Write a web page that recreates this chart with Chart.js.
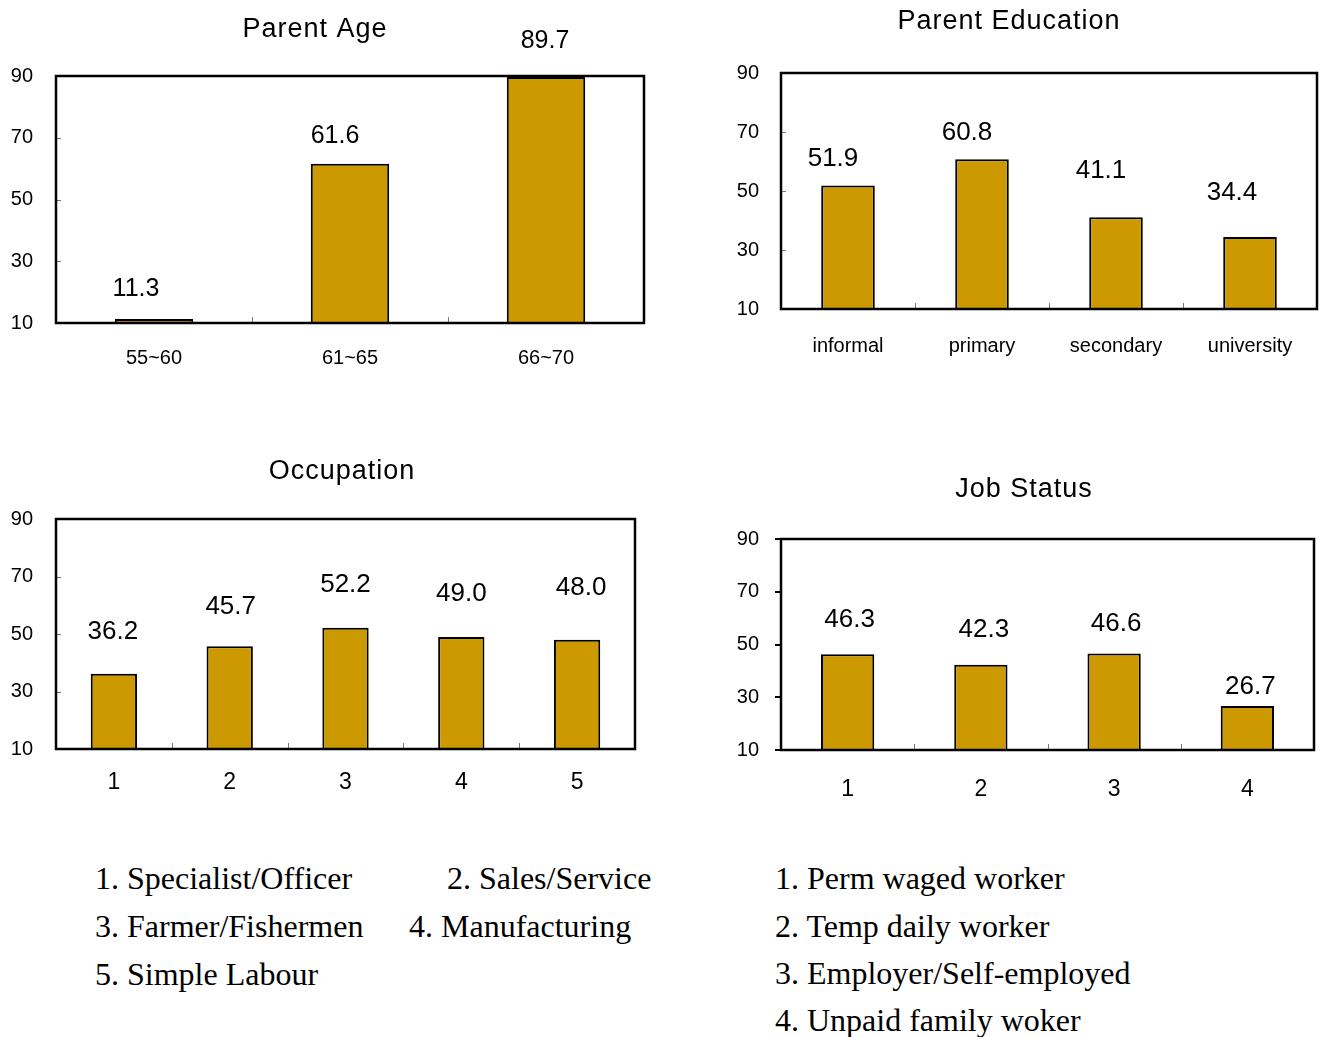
<!DOCTYPE html>
<html>
<head>
<meta charset="utf-8">
<title>Parent and household characteristics</title>
<script src="https://cdn.jsdelivr.net/npm/chart.js@4.4.1/dist/chart.umd.min.js"></script>
<style>
  html, body { margin: 0; padding: 0; background: #fff; }
  body { width: 1321px; height: 1037px; position: relative; overflow: hidden; }
  canvas { position: absolute; }
  .note {
    position: absolute;
    font-family: 'Liberation Serif', 'Times New Roman', serif;
    font-size: 32px;
    line-height: 32px;
    color: #000;
    white-space: nowrap;
  }
</style>
</head>
<body>
<canvas id="cAge"></canvas>
<canvas id="cEdu"></canvas>
<canvas id="cOcc"></canvas>
<canvas id="cJob"></canvas>

<script>
// ---- data ----
const ageCategories = ['55~60', '61~65', '66~70'];
const ageValues = [11.3, 61.6, 89.7];

const eduCategories = ['informal', 'primary', 'secondary', 'university'];
const eduValues = [51.9, 60.8, 41.1, 34.4];

const occCategories = ['1', '2', '3', '4', '5'];
const occValues = [36.2, 45.7, 52.2, 49.0, 48.0];

const jobCategories = ['1', '2', '3', '4'];
const jobValues = [46.3, 42.3, 46.6, 26.7];

const yTickValues = [10, 30, 50, 70, 90];

const occNames = ['Specialist/Officer', 'Sales/Service', 'Farmer/Fishermen', 'Manufacturing', 'Simple Labour'];
const jobNames = ['Perm waged worker', 'Temp daily worker', 'Employer/Self-employed', 'Unpaid family woker'];

// ---- styling ----
const FONT = "'Liberation Sans', Arial, Helvetica, sans-serif";
Chart.defaults.font.family = FONT;
Chart.defaults.color = '#000';
const BAR_FILL = '#CC9900';

// Frame, small axis tick marks, title and value labels for one panel
const panelDecor = {
  id: 'panelDecor',
  afterDatasetsDraw(chart) {
    const spec = chart.options.plugins.panelDecor;
    const { ctx, chartArea: a } = chart;
    const xs = chart.scales.x, ys = chart.scales.y;
    ctx.save();

    // inner tick marks
    ctx.strokeStyle = '#777';
    ctx.lineWidth = 1;
    ctx.beginPath();
    const n = chart.data.labels.length;
    for (let k = 1; k < n; k++) {
      const x = Math.round(xs.getPixelForValue(k - 0.5)) + 0.5;
      ctx.moveTo(x, a.bottom);
      ctx.lineTo(x, a.bottom - 6);
    }
    if (spec.innerYTicks) {
      [30, 50, 70].forEach(v => {
        const y = Math.round(ys.getPixelForValue(v)) + 0.5;
        ctx.moveTo(a.left, y);
        ctx.lineTo(a.left + 5, y);
      });
    }
    ctx.stroke();

    // plot frame
    ctx.strokeStyle = '#000';
    ctx.lineWidth = 2.5;
    ctx.strokeRect(a.left, a.top, a.right - a.left, a.bottom - a.top);

    // value labels
    ctx.fillStyle = '#000';
    ctx.font = spec.valueFont + 'px ' + FONT;
    ctx.textAlign = 'center';
    ctx.textBaseline = 'middle';
    const values = chart.data.datasets[0].data;
    chart.getDatasetMeta(0).data.forEach((bar, i) => {
      const s = spec.labelShift[i];
      ctx.fillText(values[i].toFixed(1), bar.x + s[0], bar.y - s[1]);
    });

    // panel title
    ctx.font = '27px ' + FONT;
    if ('letterSpacing' in ctx) ctx.letterSpacing = '1px';
    ctx.fillText(spec.title, spec.titleX, spec.titleY);
    ctx.restore();
  }
};

function makePanel(p) {
  const canvas = document.getElementById(p.id);
  canvas.width = p.w;
  canvas.height = p.h;
  canvas.style.left = p.left + 'px';
  canvas.style.top = p.top + 'px';
  canvas.style.width = p.w + 'px';
  canvas.style.height = p.h + 'px';

  const yGrid = p.outerYTicks
    ? { display: true, drawOnChartArea: false, drawTicks: true, tickLength: 6, color: '#000', lineWidth: 2 }
    : { display: false };

  return new Chart(canvas, {
    type: 'bar',
    data: {
      labels: p.categories,
      datasets: [{
        data: p.values,
        backgroundColor: BAR_FILL,
        borderColor: '#000',
        borderWidth: 2,
        borderSkipped: false,
        barPercentage: 0.4,
        categoryPercentage: 1
      }]
    },
    options: {
      responsive: false,
      animation: false,
      devicePixelRatio: 1,
      layout: {
        padding: {
          top: p.plot.top - p.top,
          right: p.left + p.w - p.plot.right,
          left: 0,
          bottom: 0
        }
      },
      plugins: {
        legend: { display: false },
        tooltip: { enabled: false },
        title: { display: false },
        panelDecor: {
          title: p.title,
          titleX: p.titleX - p.left,
          titleY: p.titleY - p.top,
          labelShift: p.labelShift,
          valueFont: p.valueFont,
          innerYTicks: !p.outerYTicks
        }
      },
      scales: {
        x: {
          offset: true,
          grid: { display: false },
          border: { display: false },
          ticks: {
            color: '#000',
            font: { size: p.catFont },
            padding: p.xPad,
            maxRotation: 0,
            minRotation: 0,
            autoSkip: false
          },
          afterFit(s) { s.height = p.top + p.h - p.plot.bottom; }
        },
        y: {
          min: 10,
          max: 90,
          afterBuildTicks(s) { s.ticks = yTickValues.map(v => ({ value: v })); },
          grid: yGrid,
          border: { display: false },
          ticks: { color: '#000', font: { size: 20 }, padding: p.yPad },
          afterFit(s) { s.width = p.plot.left - p.left; }
        }
      }
    },
    plugins: [panelDecor]
  });
}

makePanel({
  id: 'cAge', left: 0, top: 0, w: 660, h: 400,
  plot: { left: 56, top: 76, right: 644, bottom: 323 },
  title: 'Parent Age', titleX: 315, titleY: 30,
  categories: ageCategories, values: ageValues,
  labelShift: [[-18, 30], [-15, 28], [-1, 36]],
  valueFont: 25, catFont: 20, xPad: 15, yPad: 15
});

makePanel({
  id: 'cEdu', left: 720, top: 0, w: 601, h: 400,
  plot: { left: 781, top: 73, right: 1317, bottom: 309 },
  title: 'Parent Education', titleX: 1009, titleY: 22,
  categories: eduCategories, values: eduValues,
  labelShift: [[-15, 27], [-15, 26], [-15, 46], [-18, 44]],
  valueFont: 26, catFont: 20, xPad: 17, yPad: 14
});

makePanel({
  id: 'cOcc', left: 0, top: 430, w: 660, h: 390,
  plot: { left: 56, top: 519, right: 635, bottom: 749 },
  title: 'Occupation', titleX: 342, titleY: 472,
  categories: occCategories, values: occValues,
  labelShift: [[-1, 42], [1, 40], [0, 43], [0, 43], [4, 52]],
  valueFont: 26, catFont: 23, xPad: 12, yPad: 15
});

makePanel({
  id: 'cJob', left: 720, top: 430, w: 601, h: 390,
  plot: { left: 781, top: 539, right: 1314, bottom: 750 },
  title: 'Job Status', titleX: 1024, titleY: 490,
  categories: jobCategories, values: jobValues,
  labelShift: [[2, 34], [3, 35], [2, 30], [3, 19]],
  valueFont: 26, catFont: 23, xPad: 18, yPad: 16,
  outerYTicks: true
});

// ---- numbered category keys under the lower panels ----
const occNotePos = [[95, 862], [447, 862], [95, 910], [409, 910], [95, 958]];
const jobNotePos = [[775, 862], [775, 910], [775, 957], [775, 1004]];

function addNotes(names, positions) {
  names.forEach((name, i) => {
    const d = document.createElement('div');
    d.className = 'note';
    d.textContent = (i + 1) + '. ' + name;
    d.style.left = positions[i][0] + 'px';
    d.style.top = positions[i][1] + 'px';
    document.body.appendChild(d);
  });
}
addNotes(occNames, occNotePos);
addNotes(jobNames, jobNotePos);
</script>
</body>
</html>
